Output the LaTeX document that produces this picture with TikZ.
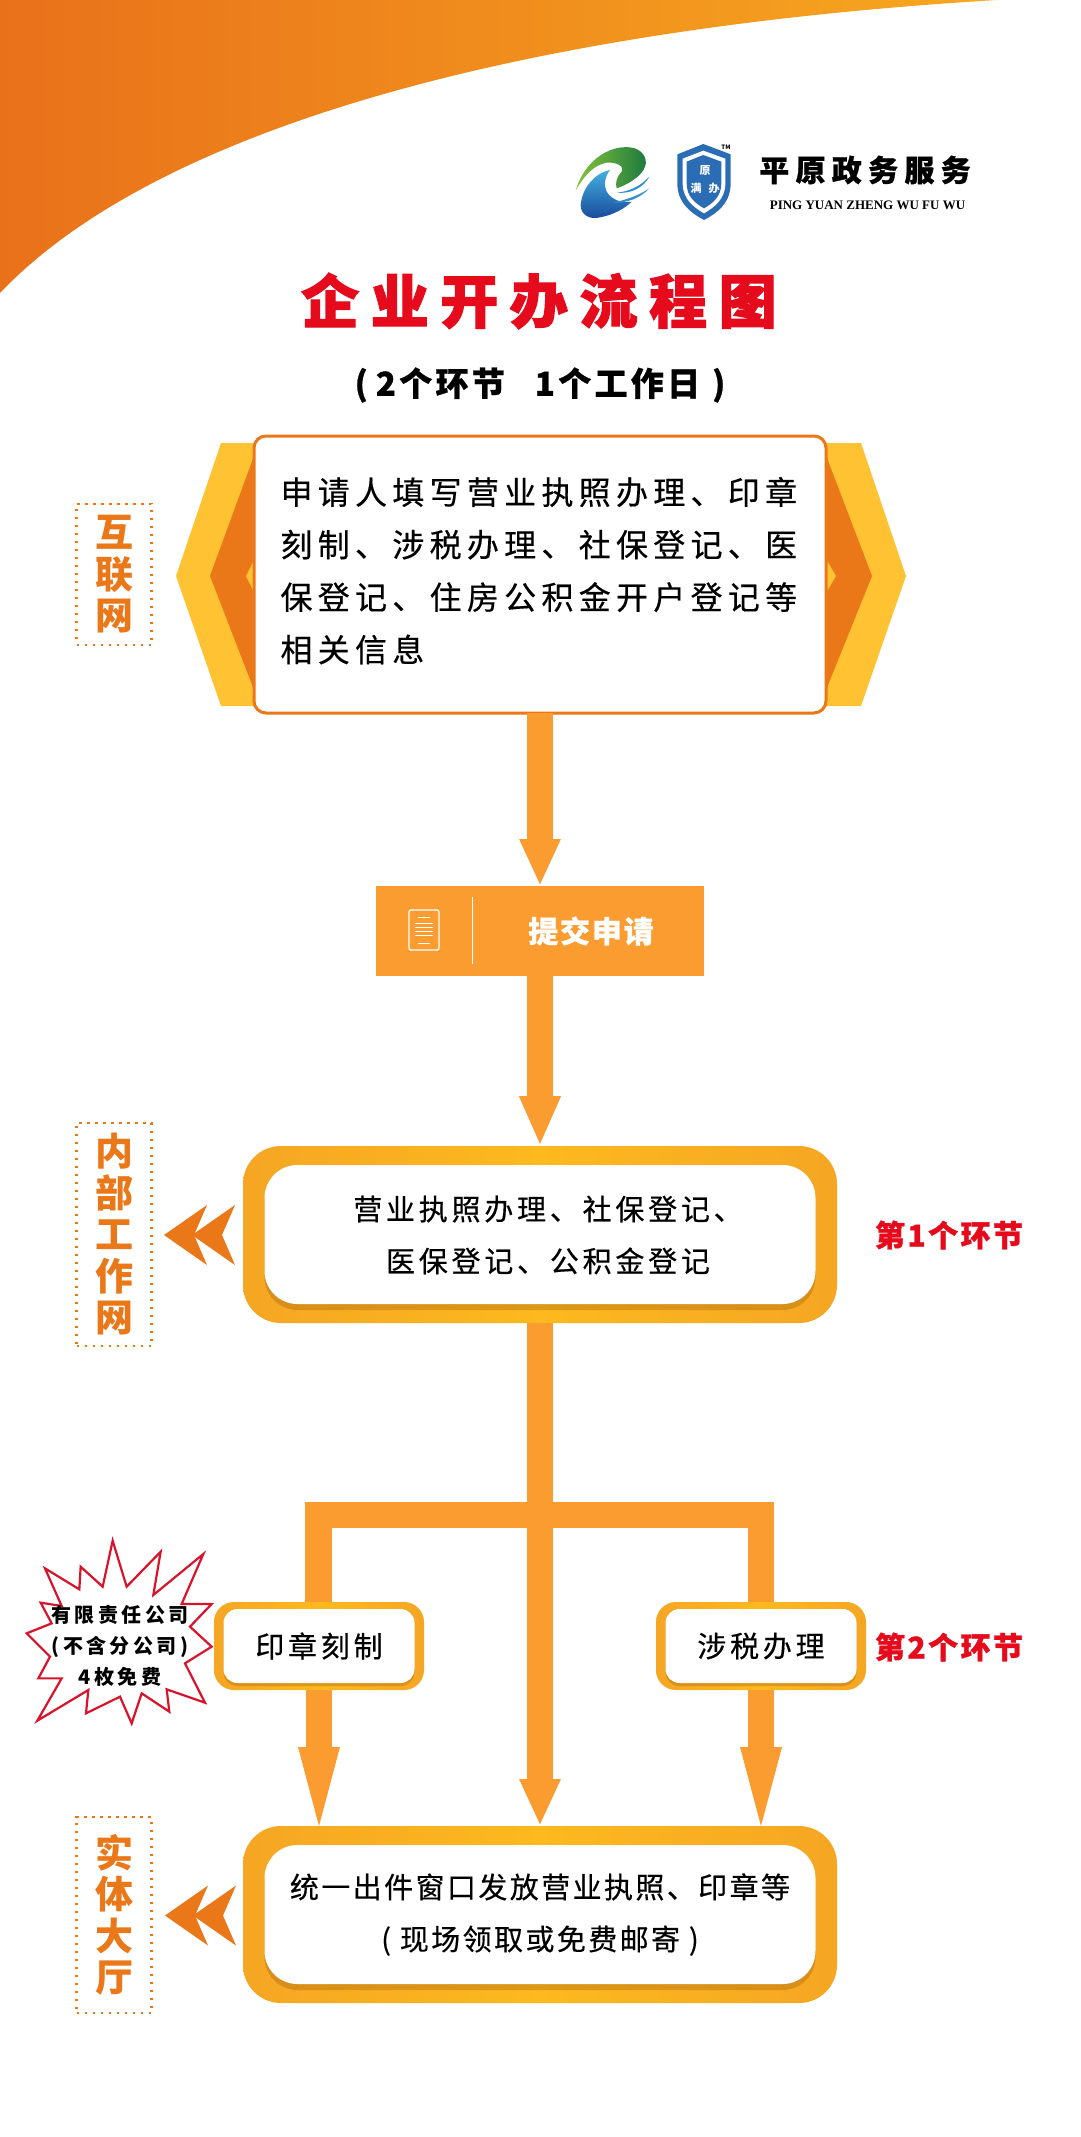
\documentclass[tikz,border=0pt]{standalone}
\usepackage{fontspec}
\usetikzlibrary{arrows.meta,shadows}
\setmainfont{Noto Sans CJK SC}
\newfontfamily\fBody[LetterSpace=16.5,FakeBold=0.4]{Noto Sans CJK SC}
\newfontfamily\fBox[LetterSpace=13,FakeBold=0.4]{Noto Sans CJK SC}
\newfontfamily\fBoxB[LetterSpace=8.3,FakeBold=0.4]{Noto Sans CJK SC}
\newfontfamily\fTitle[LetterSpace=20,BoldFeatures={FakeBold=2}]{Noto Sans CJK SC}
\newfontfamily\fSub[LetterSpace=10,BoldFeatures={FakeBold=0.8}]{Noto Sans CJK SC}
\newfontfamily\fSubmit[LetterSpace=6,BoldFeatures={FakeBold=0.8}]{Noto Sans CJK SC}
\newfontfamily\fBrand[LetterSpace=21,BoldFeatures={FakeBold=1}]{Noto Sans CJK SC}
\newfontfamily\fStar[LetterSpace=17]{Noto Sans CJK SC}
\newfontfamily\fStep[LetterSpace=8,BoldFeatures={FakeBold=1}]{Noto Sans CJK SC}
\newfontfamily\fLatin{Liberation Serif}
\definecolor{deep}{HTML}{EA7718}
\definecolor{bar}{HTML}{FB9C31}
\definecolor{frameA}{HTML}{F5A623}
\definecolor{frameB}{HTML}{FDB91E}
\definecolor{hexY}{HTML}{FFC232}
\definecolor{redT}{HTML}{E60B1C}
\definecolor{shieldB}{HTML}{2A6DB5}
\definecolor{swA}{HTML}{E9711A}
\definecolor{swB}{HTML}{F7A820}
\definecolor{gA}{HTML}{84C33C}
\definecolor{gB}{HTML}{1C7A3E}
\definecolor{bA}{HTML}{45B0E0}
\definecolor{bB}{HTML}{17489A}
\definecolor{bC}{HTML}{2F8FCF}
\definecolor{starR}{HTML}{D8142C}
\definecolor{shd}{HTML}{B5700F}
\tikzset{
  x=1pt,y=-1pt,
  every node/.style={inner sep=0pt,outer sep=0pt},
  sidelabel/.style={draw=deep,line width=2.2pt,dash pattern=on 2.2pt off 5.8pt,text=deep,
    align=center,font=\fontsize{38}{41.5}\selectfont\bfseries,minimum width=75pt},
  bigframe/.style={rounded corners=38pt,left color=frameA,right color=frameA,middle color=frameB,
    minimum width=594pt,minimum height=177pt},
  bigcard/.style={rounded corners=33pt,fill=white,align=center,
    minimum width=551pt,minimum height=139pt,
    drop shadow={shadow xshift=0pt,shadow yshift=-6pt,opacity=.45,fill=shd}},
  smallframe/.style={rounded corners=20pt,left color=frameA,right color=frameA,middle color=frameB,
    minimum width=210pt,minimum height=88pt},
  smallcard/.style={rounded corners=14pt,fill=white,
    minimum width=191pt,minimum height=74pt,
    drop shadow={shadow xshift=0pt,shadow yshift=-3pt,opacity=.45,fill=shd},
    font=\fontsize{29}{34}\selectfont\fBox},
  flowline/.style={bar,line width=26.5pt},
  flowarrow/.style={flowline,-{Triangle[length=#1,width=38pt]}},
  steptag/.style={text=redT,font=\fontsize{30}{34}\selectfont\fStep\bfseries},
  dblchev/.pic={
    \fill[deep] (0,0)--(43,-30)--(30,0)--(43,30)--cycle;
    \fill[deep] (28,0)--(71,-30)--(58,0)--(71,30)--cycle;
  },
}
\begin{document}
\begin{tikzpicture}
\useasboundingbox (0,0) rectangle (1080,2137);
\fill[white] (0,0) rectangle (1080,2137);
% top swoosh
\shade[left color=swA,right color=swB] (0,0) -- (997,0)
  .. controls (500,30) and (150,135) .. (0,293) -- cycle;
% logo
\begin{scope}[shift={(550,120)},scale=1/3]
  \shade[left color=gA,right color=gB] (77,212)
    .. controls (100,130) and (170,75) .. (240,82)
    .. controls (275,85) and (295,115) .. (285,140)
    .. controls (275,170) and (230,195) .. (200,205)
    .. controls (195,190) and (200,170) .. (215,155)
    .. controls (225,140) and (200,125) .. (170,128)
    .. controls (130,135) and (100,170) .. (77,212) -- cycle;
  \shade[top color=bA,bottom color=bB] (180,150)
    .. controls (130,160) and (95,210) .. (92,255)
    .. controls (92,285) and (120,300) .. (150,292)
    .. controls (190,285) and (225,265) .. (245,245)
    .. controls (215,250) and (185,240) .. (170,215)
    .. controls (160,195) and (165,170) .. (180,150) -- cycle;
  \fill[bC] (298,170) .. controls (280,205) and (240,222) .. (200,218)
    .. controls (235,215) and (270,200) .. (298,170) -- cycle;
  \fill[bC] (298,205) .. controls (270,235) and (230,250) .. (188,248)
    .. controls (225,240) and (265,228) .. (298,205) -- cycle;
  \fill[shieldB] (460,72) -- (542,103) -- (542,190)
    .. controls (542,250) and (500,280) .. (462,300)
    .. controls (425,280) and (382,250) .. (382,190) -- (382,103) -- cycle;
  \fill[white] (460,92) -- (526,116) -- (526,190)
    .. controls (526,238) and (492,262) .. (462,280)
    .. controls (432,262) and (398,238) .. (398,190) -- (398,116) -- cycle;
  \fill[shieldB] (460,105) -- (514,125) -- (514,190)
    .. controls (514,230) and (488,250) .. (462,265)
    .. controls (436,250) and (410,230) .. (410,190) -- (410,125) -- cycle;
\end{scope}
\node[text=white,font=\fontsize{11}{11}\selectfont\bfseries] (shA) at (705,171) {原};
\node[text=white,font=\fontsize{11}{11}\selectfont\bfseries] (shB) at (696,188) {满};
\node[text=white,font=\fontsize{11}{11}\selectfont\bfseries] (shC) at (714,188) {办};
\node[font=\fontsize{6}{6}\selectfont\bfseries] (tm) at (726,147) {TM};
\node[font=\fontsize{30}{30}\selectfont\fBrand\bfseries] (brand) at (865,170) {平原政务服务};
\node[font=\fontsize{13}{14}\selectfont\fLatin\bfseries] (brandEn) at (867.5,205) {PING YUAN ZHENG WU FU WU};
% titles
\node[text=redT,font=\fontsize{58}{60}\selectfont\fTitle\bfseries] (title) at (539,301) {企业开办流程图};
\node[font=\fontsize{33}{36}\selectfont\fSub\bfseries] (subtitle) at (540,385)
  {(\hspace{8pt}2个环节\hspace{30pt}1个工作日\hspace{12pt})};
% main card side wings
\fill[hexY] (258,443) -- (221,443) -- (176,576) -- (221,706) -- (258,706) -- cycle;
\fill[deep] (258,445) -- (210,576) -- (258,700) -- cycle;
\fill[hexY] (258,552) -- (246,576) -- (258,600) -- cycle;
\fill[hexY] (822,443) -- (861,443) -- (906,576) -- (861,706) -- (822,706) -- cycle;
\fill[deep] (822,445) -- (872,576) -- (822,700) -- cycle;
\fill[hexY] (822,552) -- (836,576) -- (822,600) -- cycle;
% main card
\node[draw=deep,line width=3pt,fill=white,rounded corners=12pt,minimum width=572pt,minimum height=277pt] (apply) at (540,574.5) {};
\node[anchor=north west,align=left,font=\fontsize{32}{52.5}\selectfont\fBody] (applyText) at (280.5,477)
  {申请人填写营业执照办理、印章\\刻制、涉税办理、社保登记、医\\保登记、住房公积金开户登记等\\相关信息};
% side labels
\node[sidelabel,minimum height=141pt] (lbNet) at (114,574.5) {互\\联\\网};
\node[sidelabel,minimum height=223pt] (lbInner) at (114,1234.5) {内\\部\\工\\作\\网};
\node[sidelabel,minimum height=196pt] (lbHall) at (114,1915) {实\\体\\大\\厅};
% submit
\node[fill=bar,minimum width=328pt,minimum height=90pt] (submit) at (540,931) {};
\draw[white,line width=1pt] (472,897) -- (472,964);
\draw[white,line width=1.2pt,rounded corners=1.5pt] (409,910) rectangle (439,950);
\draw[white,line width=1pt] (418,917) -- (430,917) (415,923) -- (433,923) (415,927) -- (433,927)
  (415,931) -- (433,931) (415,935) -- (433,935) (418,943) -- (430,943);
\node[text=white,font=\fontsize{30}{34}\selectfont\fSubmit\bfseries] (submitText) at (591,931) {提交申请};
% first step
\node[bigframe] (bizF) at (540,1234.5) {};
\node[bigcard] (biz) at (540,1234.5) {};
\node[align=center,font=\fontsize{29}{52}\selectfont\fBox] (bizText) at (548,1235) {营业执照办理、社保登记、\\医保登记、公积金登记};
\pic at (164,1235) {dblchev};
\node[steptag] (stepA) at (949,1235) {第1个环节};
% second step
\coordinate (busL) at (318.5,1515);
\coordinate (busR) at (761,1515);
\node[smallframe] (sealF) at (319,1646) {};
\node[smallcard] (seal) at (319,1646) {印章刻制};
\node[smallframe] (taxF) at (761,1646) {};
\node[smallcard] (tax) at (761,1646) {涉税办理};
\node[steptag] (stepB) at (949,1647) {第2个环节};
% star
\begin{scope}[shift={(10,1530)},scale=1/3]
  \filldraw[draw=starR,fill=white,line width=2.2pt,line join=miter,miter limit=10]
   (308,32)--(350,170)--(452,65)--(430,195)--(580,72)--(515,222)--(605,222)--(540,290)--(605,350)--(525,400)
   --(585,518)--(470,478)--(478,545)--(395,490)--(365,580)--(330,500)--(228,550)--(235,480)--(82,572)--(155,445)
   --(85,445)--(120,380)--(50,310)--(125,280)--(92,218)--(155,228)--(105,115)--(208,178)--(212,110)--(278,170)--cycle;
\end{scope}
\node[align=center,font=\fontsize{20}{31}\selectfont\fStar\bfseries] (starText) at (120,1646)
  {有限责任公司\\(\,不含分公司\,)\\4枚免费};
% final
\node[bigframe] (issueF) at (540,1914.5) {};
\node[bigcard,font=\fontsize{29}{52}\selectfont\fBoxB] (issue) at (540,1914.5) {统一出件窗口发放营业执照、印章等\\( 现场领取或免费邮寄 )};
\pic at (165,1915.5) {dblchev};
% connectors
\draw[flowarrow=47pt] (apply.south) -- (submit.north);
\draw[flowarrow=50pt] (submit.south) -- (bizF.north);
\draw[flowarrow=47pt] (bizF.south) -- (issueF.north);
\draw[flowline,line join=miter] (sealF.north -| busL) -- (busL) -- (busR) -- (taxF.north);
\coordinate (sealTip) at (sealF.south |- issueF.north);
\coordinate (taxTip) at (taxF.south |- issueF.north);
\draw[flowline] (sealF.south) -- ([yshift=70pt]sealTip);
\fill[bar] (sealTip) -- ++(-21,-79) -- ++(42,0) -- cycle;
\draw[flowline] (taxF.south) -- ([yshift=70pt]taxTip);
\fill[bar] (taxTip) -- ++(-21,-79) -- ++(42,0) -- cycle;
\end{tikzpicture}
\end{document}
